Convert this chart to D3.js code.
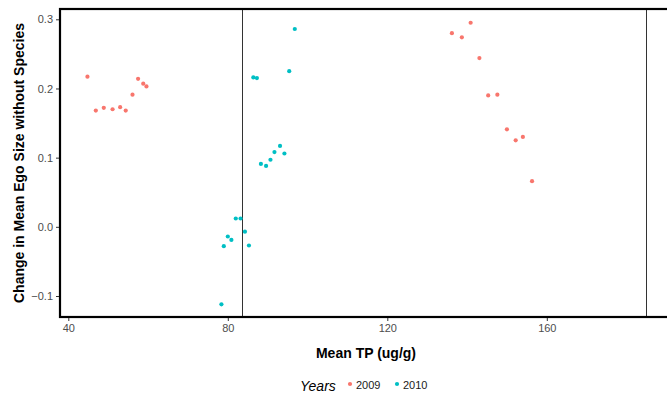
<!DOCTYPE html>
<html><head><meta charset="utf-8">
<script src="https://cdn.jsdelivr.net/npm/d3@7"></script>
<style>body{margin:0;background:#fff}svg{display:block}text{font-family:"Liberation Sans",Arial,sans-serif}</style>
</head><body>
<svg id="c" width="667" height="397"></svg>
<script>
const years = ["2009", "2010"];
const colors = ["#F8766D", "#00BFC4"];
const tp2009 = [44.8, 46.9, 48.9, 51.1, 53.0, 54.4, 56.1, 57.5, 58.8, 59.6,
                136.2, 138.7, 140.9, 143.1, 145.3, 147.6, 150.0, 152.2, 154.0, 156.3];
const ego2009 = [0.217, 0.168, 0.172, 0.170, 0.173, 0.168, 0.191, 0.214, 0.207, 0.203,
                 0.280, 0.274, 0.295, 0.244, 0.190, 0.191, 0.141, 0.125, 0.130, 0.066];
const tp2010 = [78.4, 79.0, 80.0, 80.9, 82.0, 83.2, 84.3, 85.3, 86.4, 87.3,
                88.3, 89.6, 90.7, 91.7, 93.1, 94.2, 95.4, 96.8];
const ego2010 = [-0.112, -0.028, -0.014, -0.019, 0.012, 0.012, -0.007, -0.027, 0.216, 0.215,
                 0.091, 0.088, 0.097, 0.108, 0.117, 0.106, 0.225, 0.286];
const vlines = [83.66, 184.8];
const xTicks = [40, 80, 120, 160];
const yTicks = [-0.1, 0.0, 0.1, 0.2, 0.3];
const xTitle = "Mean TP (ug/g)";
const yTitle = "Change in Mean Ego Size without Species";
const legendTitle = "Years";

const svg = d3.select("#c");
const P = {left: 60, top: 9, right: 672, bottom: 317};
const x = d3.scaleLinear().domain([40, 160]).range([68.3, 546.8]);
const y = d3.scaleLinear().domain([-0.1, 0.3]).range([296, 19.3]);

// vertical reference lines
svg.selectAll("line.v").data(vlines).enter().append("line")
  .attr("x1", d => Math.round(x(d)) + 0.5).attr("x2", d => Math.round(x(d)) + 0.5)
  .attr("y1", P.top).attr("y2", P.bottom)
  .attr("stroke", "#333").attr("stroke-width", 1);

// points
const series = [
  {year: years[0], color: colors[0], xs: tp2009, ys: ego2009},
  {year: years[1], color: colors[1], xs: tp2010, ys: ego2010}
];
series.forEach(s => {
  svg.append("g").selectAll("circle").data(s.xs.map((v, i) => [v, s.ys[i]])).enter()
    .append("circle").attr("cx", d => x(d[0])).attr("cy", d => y(d[1])).attr("r", 2.1)
    .attr("fill", s.color);
});

// panel border
svg.append("rect").attr("x", P.left).attr("y", P.top)
  .attr("width", P.right - P.left).attr("height", P.bottom - P.top)
  .attr("fill", "none").attr("stroke", "#000").attr("stroke-width", 2.2);

// axes
const xAxis = d3.axisBottom(x).tickValues(xTicks).tickSize(3).tickPadding(3).tickFormat(d3.format("d"));
const gx = svg.append("g").attr("transform", `translate(0,${P.bottom + 1})`).call(xAxis);
const yAxis = d3.axisLeft(y).tickValues(yTicks).tickSize(3).tickPadding(3).tickFormat(d3.format(".1f"));
const gy = svg.append("g").attr("transform", `translate(${P.left - 1},0)`).call(yAxis);
[gx, gy].forEach(g => {
  g.select(".domain").remove();
  g.selectAll(".tick line").attr("stroke", "#333");
  g.selectAll(".tick text").attr("fill", "#4d4d4d").style("font-size", "11px")
    .style("font-family", '"Liberation Sans",Arial,sans-serif');
});

// titles
svg.append("text").attr("x", (P.left + P.right) / 2).attr("y", 358)
  .attr("text-anchor", "middle").style("font-size", "14px").style("font-weight", "bold").text(xTitle);
svg.append("text").attr("transform", `translate(24,${(P.top + P.bottom) / 2}) rotate(-90)`)
  .attr("text-anchor", "middle").style("font-size", "14px").style("font-weight", "bold").text(yTitle);

// legend
const lg = svg.append("g");
lg.append("text").attr("x", 300).attr("y", 391).style("font-size", "14px").style("font-style", "italic").text(legendTitle);
const lx = [350, 397];
years.forEach((yr, i) => {
  lg.append("circle").attr("cx", lx[i]).attr("cy", 384).attr("r", 2.1).attr("fill", colors[i]);
  lg.append("text").attr("x", lx[i] + 6).attr("y", 389).style("font-size", "11px").attr("fill", "#1a1a1a").text(yr);
});
</script>
</body></html>
